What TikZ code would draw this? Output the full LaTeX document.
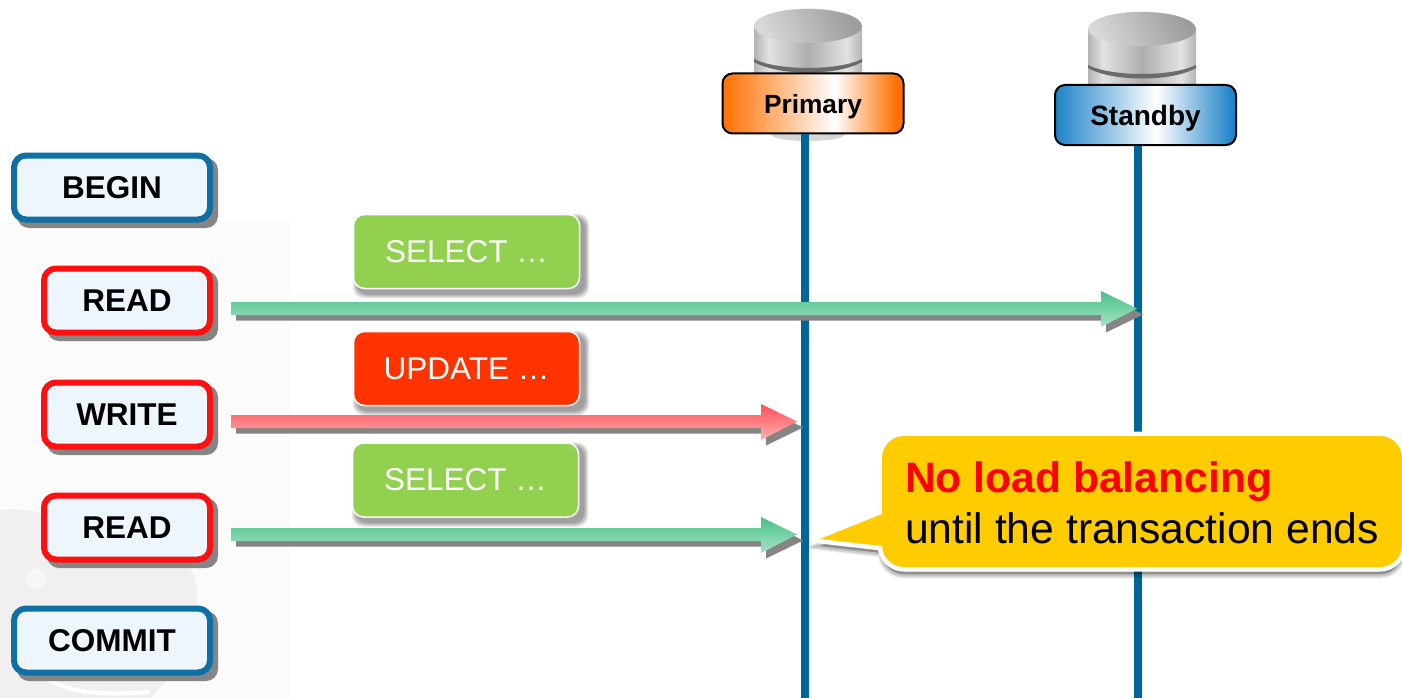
\documentclass[tikz,border=0pt]{standalone}
\usepackage{fontspec}
\setmainfont{Liberation Sans}
\usetikzlibrary{calc}
\definecolor{boxblue}{HTML}{0F70A5}
\definecolor{boxred}{HTML}{FF1010}
\definecolor{boxfill}{HTML}{EDF5FD}
\definecolor{lifeline}{HTML}{006699}
\definecolor{selgreen}{HTML}{92D050}
\definecolor{updred}{HTML}{FF3300}
\definecolor{calloutfill}{HTML}{FFCC00}
\definecolor{noteorange}{HTML}{FF7000}
\definecolor{noteblue}{HTML}{1E83C8}
\definecolor{arrgreenA}{HTML}{48C088}
\definecolor{arrgreenB}{HTML}{A8E4C6}
\definecolor{arrredA}{HTML}{FF5058}
\definecolor{arrredB}{HTML}{FFB0B0}
\definecolor{cylA}{HTML}{B4B4B4}
\definecolor{cylB}{HTML}{E2E2E2}
\definecolor{cylC}{HTML}{AEAEAE}
\definecolor{cylTopA}{HTML}{D8D8D8}
\definecolor{cylTopB}{HTML}{9C9C9C}
\pgfdeclarehorizontalshading{primaryshade}{100bp}{
  color(0bp)=(noteorange);color(25bp)=(noteorange);color(56bp)=(white);color(73bp)=(noteorange);color(75bp)=(noteorange);color(100bp)=(noteorange)}
\pgfdeclarehorizontalshading{standbyshade}{100bp}{
  color(0bp)=(noteblue);color(25bp)=(noteblue);color(53bp)=(white);color(74bp)=(noteblue);color(75bp)=(noteblue);color(100bp)=(noteblue)}
\pgfdeclarehorizontalshading{cylbody}{100bp}{
  color(0bp)=(cylA);color(25bp)=(cylA);color(32bp)=(cylB);color(50bp)=(cylC);color(68bp)=(cylB);color(75bp)=(cylA);color(100bp)=(cylA)}
\tikzset{
  x=1pt,y=-1pt,
  txnbox/.style={rounded corners=12pt,line width=6pt,fill=boxfill,minimum height=64pt,
    inner sep=0pt,font=\fontsize{31.5}{31.5}\selectfont\bfseries,text=black},
  txnblue/.style={txnbox,draw=boxblue,minimum width=196pt},
  txnred/.style={txnbox,draw=boxred,minimum width=166pt},
  sqlbox/.style={rounded corners=11pt,draw=white,line width=1.5pt,minimum width=226pt,minimum height=74pt,
    inner sep=0pt,font=\fontsize{31.5}{32}\selectfont,text=white},
  rolebox/.style={rounded corners=10pt,draw=black,line width=2pt,minimum width=181pt,minimum height=60pt,
    inner sep=0pt},
  rolelabel/.style={inner sep=0pt,font=\fontsize{26.3}{26}\selectfont\bfseries,text=black},
  lifeln/.style={draw=lifeline,line width=8pt},
}
% soft shadow of a rounded rectangle: #1 name of the node
\newcommand{\softshadow}[1]{%
  \foreach \g in {5,4,3,2,1}{%
    \fill[black,opacity=0.085,rounded corners=11pt]
      ($(#1.north west)+(5-\g,5-\g)$) rectangle ($(#1.south east)+(4+\g,4+\g)$);}}
% block arrow with offset shadow: #1 from, #2 to, #3 top colour, #4 bottom colour
\newcommand{\arrowshape}[4]{%
  \path let \p1=(#1),\p2=(#2) in coordinate (fa) at (\x1,\y1) coordinate (ta) at (\x2,\y1);
  \fill[black!48] ($(fa)+(5,0)$) -- ($(ta)+(-31,0)$) -- ($(ta)+(-31,-13)$) -- ($(ta)+(6,6)$) -- ($(ta)+(-31,24)$) -- ($(ta)+(-31,12)$) -- ($(fa)+(5,12)$) -- cycle;
  \shade[top color=#3,bottom color=#4] ($(fa)+(0,-6.5)$) -- ($(ta)+(-36,-6.5)$) -- ($(ta)+(-36,-17.5)$) -- (ta) -- ($(ta)+(-36,18.5)$) -- ($(ta)+(-36,6.5)$) -- ($(fa)+(0,6.5)$) -- cycle;
}
\begin{document}
\begin{tikzpicture}
\useasboundingbox (0,0) rectangle (1402,698);
\fill[white] (0,0) rectangle (1402,698);
% faint backdrop
\fill[black!1.5] (0,220) rectangle (290,698);
\begin{scope}
\clip (0,220) rectangle (290,698);
\fill[black!6] (0,510) .. controls (70,505) and (170,520) .. (195,578) .. controls (205,625) and (180,670) .. (150,698) -- (0,698) -- cycle;
\draw[white,line width=2pt] (0,508) .. controls (20,507) and (38,510) .. (48,514);
\draw[white,line width=4pt] (50,680) .. controls (70,692) and (100,696) .. (150,692);
\fill[black!3] (36,579) circle (10.5);
\end{scope}
% cylinders
\fill[black!35,opacity=.45] (808,135) ellipse (36 and 6);
\foreach \cx/\dy/\bnd in {808/0/0,1142/3/3}{
  \shade[shading=cylbody] (\cx-54,26+\dy) -- (\cx-54,88) -- (\cx+54,88) -- (\cx+54,26+\dy) -- cycle;
  \fill[white!85!black!90] (\cx-54,27+\dy) arc[start angle=180,end angle=360,x radius=54,y radius=18.5] -- cycle;
  \shade[left color=cylTopA,right color=cylTopB,shading angle=115] (\cx,26+\dy) ellipse (54 and 17);
  \fill[black!58] (\cx-54,59+\dy+\bnd) .. controls (\cx-30,71+\dy+\bnd) and (\cx+30,71+\dy+\bnd) .. (\cx+54,59+\dy+\bnd)
    -- (\cx+54,62+\dy+\bnd) .. controls (\cx+30,76+\dy+\bnd) and (\cx-30,76+\dy+\bnd) .. (\cx-54,62+\dy+\bnd) -- cycle;
}
% role boxes and lifelines
\node[rolebox,shade,shading=primaryshade] (primary) at (813,103.5) {};
\node[rolebox,shade,shading=standbyshade] (standby) at (1145.5,115) {};
\coordinate (pend) at (805,698);
\coordinate (send) at (1138,698);
\draw[lifeln] (primary.south -| pend) -- (pend);
\draw[lifeln] (standby.south -| send) -- (send);
\node[rolelabel] (primarytxt) at (813,107) {Primary};
\node[rolelabel,font=\fontsize{28}{28}\selectfont\bfseries] (standbytxt) at (1145.5,118.5) {Standby};
% transaction boxes
\foreach \yy/\xl/\xr in {187/11/213,300/41/213,414/41/213,527/41/213,640/11/213}{
  \fill[black!48,rounded corners=12pt] (\xl+6,\yy-29) rectangle (\xr+5,\yy+41);
}
\node[txnblue] (begin) at (112,187.5) {BEGIN};
\node[txnred] (read1) at (127,300.5) {READ};
\node[txnred] (write) at (127,414.5) {WRITE};
\node[txnred] (read2) at (127,527.5) {READ};
\node[txnblue] (commit) at (112,640.5) {COMMIT};
% SQL boxes
\coordinate (sel1c) at (466.5,251.5);
\coordinate (updc) at (466.5,368.5);
\coordinate (sel2c) at (465.5,480);
\node[sqlbox] (sel1) at (sel1c) {};
\node[sqlbox] (upd) at (updc) {};
\node[sqlbox] (sel2) at (sel2c) {};
\softshadow{sel1}\softshadow{upd}\softshadow{sel2}
\node[sqlbox,fill=selgreen] (sel1f) at (sel1c) {SELECT …};
\node[sqlbox,fill=updred] (updf) at (updc) {UPDATE …};
\node[sqlbox,fill=selgreen] (sel2f) at (sel2c) {SELECT …};
% block arrows
\coordinate (a1s) at (231,308.5);
\coordinate (a1e) at (1137,308.5);
\coordinate (a2s) at (231,421.5);
\coordinate (a2e) at (797,421.5);
\coordinate (a3s) at (231,534.5);
\coordinate (a3e) at (797,534.5);
\arrowshape{a1s}{a1e}{arrgreenA}{arrgreenB}
\arrowshape{a2s}{a2e}{arrredA}{arrredB}
\arrowshape{a3s}{a3e}{arrgreenA}{arrgreenB}
% callout
\def\calloutpath{(882,458) arc[start angle=180,end angle=270,radius=22] -- (1380,436) arc[start angle=270,end angle=360,radius=22] -- (1402,545) arc[start angle=0,end angle=90,radius=22] -- (904,567) arc[start angle=90,end angle=180,radius=22] -- (882,546) -- (820,539) -- (882,514) -- cycle}
\foreach \g in {9,7,5,3}{
  \fill[black,opacity=0.07,yshift=-7pt,line width=\g pt,draw=black,draw opacity=0.07] \calloutpath;
}
\draw[white,line width=9pt,line join=round] \calloutpath;
\fill[calloutfill] \calloutpath;
\node[anchor=north west,inner sep=0pt,align=left,font=\fontsize{42.6}{51}\selectfont] (note) at (905,461.5)
  {\textcolor{red}{\bfseries No load balancing}\\until the transaction ends};
\end{tikzpicture}
\end{document}
